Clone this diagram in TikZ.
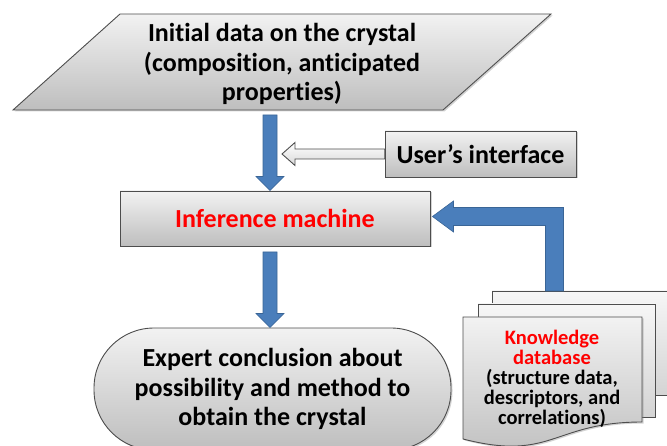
\documentclass[tikz,border=0pt]{standalone}
\usepackage{fontspec}
\setmainfont{Carlito}[Ligatures={NoCommon,NoContextual}]
\usetikzlibrary{shadows,calc}
\definecolor{arrowblue}{HTML}{4A7EBB}
\definecolor{arrowedge}{HTML}{3A6596}
\definecolor{boxedge}{HTML}{4D4D4D}
\definecolor{gtop}{HTML}{F2F2F2}
\definecolor{gbot}{HTML}{BEBEBE}
\definecolor{btop}{HTML}{F6F6F6}
\definecolor{bbot}{HTML}{D4D4D4}
\tikzset{
 box/.style={draw=boxedge, line width=0.9pt, top color=gtop, bottom color=gbot,
   drop shadow={shadow xshift=1.5pt, shadow yshift=-1.5pt, opacity=0.35}},
 docback/.style={draw=boxedge, line width=0.9pt, top color=btop, bottom color=bbot},
 fat/.style={draw=arrowedge, fill=arrowblue, line width=0.6pt},
 hollow/.style={draw=boxedge, line width=0.9pt, top color=white, bottom color=gray!30},
 bigtext/.style={font=\bfseries\fontsize{26}{29.5}\selectfont, align=center, text=black},
 smalltext/.style={font=\bfseries\fontsize{20.5}{20}\selectfont, align=center},
}
\newcommand\fatdown[2]{\path[fat] let \p1=#1, \p2=#2 in
  (\x1-7pt,\y1) -- (\x1+7pt,\y1) -- (\x1+7pt,\y2+14pt) -- (\x1+14pt,\y2+14pt)
  -- (\x1,\y2) -- (\x1-14pt,\y2+14pt) -- (\x1-7pt,\y2+14pt) -- cycle;}
\begin{document}
\begin{tikzpicture}[x=1pt,y=-1pt]
\clip (0,0) rectangle (667,446);
% initial data
\path[box] (120,14) -- (551,14) -- (443,110) -- (13,110) -- cycle;
\node[bigtext, minimum width=330pt, minimum height=96pt, inner sep=0pt] (init) at (282,64)
  {Initial data on the crystal\\(composition, anticipated\\properties)};
% inference machine
\node[box, bigtext, text=red, minimum width=310pt, minimum height=55pt, inner sep=0pt] (inf) at (275,218.5) {Inference machine};
% conclusion
\node[box, bigtext, minimum width=357pt, minimum height=122pt, rounded corners=60pt, inner sep=0pt] (concl) at (272.5,389)
  {Expert conclusion about\\possibility and method to\\obtain the crystal};
% user's interface arrow and box
\coordinate (wtip) at (282,154);
\node[minimum width=191pt, minimum height=46pt, inner sep=0pt] (userpos) at (480.5,154) {};
\path[hollow] let \p1=(userpos.west), \p2=(wtip) in
  (\x1,\y1+5pt) -- (\x2+13pt,\y1+5pt) -- (\x2+13pt,\y1+11.5pt) -- (\x2,\y2)
  -- (\x2+13pt,\y1-11.5pt) -- (\x2+13pt,\y1-5pt) -- (\x1,\y1-5pt) -- cycle;
\node[box, bigtext, minimum width=191pt, minimum height=46pt, inner sep=0pt] (user) at (480.5,154) {User’s interface};
% blue down arrows
\coordinate (a1top) at (270,115);
\fatdown{(a1top)}{(a1top |- inf.north)}
\coordinate (a2top) at (270,252);
\fatdown{(a2top)}{(a2top |- concl.north)}
% knowledge database documents
\path[docback] (492,291) rectangle (690,395);
\path[docback] (478,304) rectangle (655,417);
\path[box] (463,317) -- (642,317) -- (642,422) .. controls (552.5,422) and (552.5,462) .. (463,439) -- cycle;
\node[smalltext] (kb) at (552,379) {\textcolor{red}{Knowledge}\\\textcolor{red}{database}\\(structure data,\\descriptors, and\\correlations)};
\coordinate (kbtop) at (554.5,291);
% elbow arrow
\path[fat] let \p1=(kbtop), \p2=([xshift=2pt,yshift=2pt]inf.east) in
  (\x1-9pt,\y1) -- (\x1-9pt,\y2-9pt) -- (\x2+21pt,\y2-9pt) -- (\x2+21pt,\y2-15.5pt) -- (\x2,\y2)
  -- (\x2+21pt,\y2+15.5pt) -- (\x2+21pt,\y2+9pt) -- (\x1+9pt,\y2+9pt) -- (\x1+9pt,\y1) -- cycle;
\end{tikzpicture}
\end{document}
